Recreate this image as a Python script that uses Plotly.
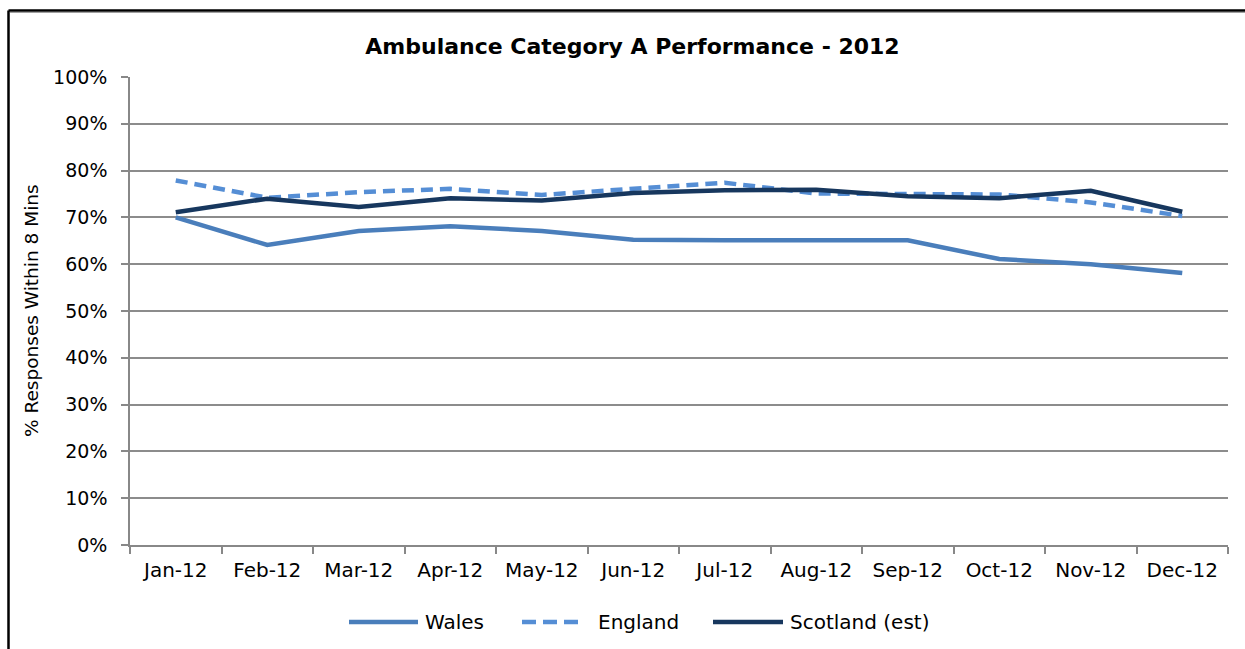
import plotly.graph_objects as go

months = ["Jan-12", "Feb-12", "Mar-12", "Apr-12", "May-12", "Jun-12",
          "Jul-12", "Aug-12", "Sep-12", "Oct-12", "Nov-12", "Dec-12"]
wales = [0.700, 0.641, 0.671, 0.681, 0.671, 0.652, 0.651, 0.651, 0.651, 0.611, 0.600, 0.581]
england = [0.779, 0.742, 0.754, 0.761, 0.748, 0.761, 0.774, 0.751, 0.751, 0.749, 0.732, 0.703]
scotland = [0.711, 0.740, 0.722, 0.741, 0.736, 0.752, 0.758, 0.759, 0.745, 0.741, 0.757, 0.712]

series_names = ["Wales", "England", "Scotland (est)"]
series_colors = ["#4A7EBB", "#558ED5", "#17375E"]
series_dash = ["solid", "12px,7px", "solid"]

FONT = "DejaVu Sans"
W, H = 1245, 649
L, R, T, B = 130, 17, 77, 104
PW, PH = W - L - R, H - T - B


def px(xp):
    return (xp - L) / PW


def py(yp):
    return (H - B - yp) / PH


fig = go.Figure()
for name, vals, col, dash in zip(series_names, [wales, england, scotland], series_colors, series_dash):
    fig.add_trace(go.Scatter(x=months, y=vals, mode="lines", name=name,
                             line=dict(color=col, width=4.5, dash=dash),
                             showlegend=False))

shapes = []
# outer chart border (left and top edges visible)
shapes.append(dict(type="line", xref="paper", yref="paper", x0=px(8.5), x1=px(8.5), y0=py(700), y1=py(10.5),
                   line=dict(color="black", width=2.5)))
shapes.append(dict(type="line", xref="paper", yref="paper", x0=px(8.5), x1=px(1300), y0=py(10.5), y1=py(10.5),
                   line=dict(color="black", width=2.5)))
shapes.append(dict(type="line", xref="paper", yref="paper", x0=px(10), x1=px(1300), y0=py(12.5), y1=py(12.5),
                   line=dict(color="#A0A0A0", width=1)))

# custom legend
legend_lines = [(349, 418), (522, 581), (713, 783)]
legend_text_x = [423, 596, 788]
annotations = []
ly = 622
for (x0, x1), tx, name, col, dash in zip(legend_lines, legend_text_x, series_names, series_colors, series_dash):
    shapes.append(dict(type="line", xref="paper", yref="paper", x0=px(x0), x1=px(x1), y0=py(ly), y1=py(ly),
                       line=dict(color=col, width=4.5, dash="14px,7px" if dash != "solid" else "solid")))
    annotations.append(dict(xref="paper", yref="paper", x=px(tx), y=py(ly), text=name, showarrow=False,
                            xanchor="left", yanchor="middle", font=dict(family=FONT, size=20, color="black")))

annotations.append(dict(xref="paper", yref="paper", x=px(31), y=py(311), text="% Responses Within 8 Mins",
                        textangle=-90, showarrow=False, xanchor="center", yanchor="middle",
                        font=dict(family=FONT, size=18.5, color="black")))

fig.update_layout(
    width=W, height=H,
    margin=dict(l=L, r=R, t=T, b=B, autoexpand=False),
    paper_bgcolor="white", plot_bgcolor="white",
    title=dict(text="<b>Ambulance Category A Performance - 2012</b>", xref="container", yref="container",
               x=632.5 / W, y=1 - 46 / H, xanchor="center", yanchor="middle",
               font=dict(family=FONT, size=22, color="black")),
    shapes=shapes, annotations=annotations,
    showlegend=False,
)
fig.update_xaxes(type="category", range=[-0.5, 11.5], showgrid=False, showline=True, linecolor="#888888",
                 linewidth=1.5, ticks="outside", ticklen=7, tickcolor="#888888", tickwidth=1.5,
                 tickson="boundaries", tickfont=dict(family=FONT, size=20, color="black"),
                 ticklabelstandoff=6, fixedrange=True)
fig.update_yaxes(range=[0, 1], dtick=0.1, tickformat=".0%", showgrid=True, gridcolor="#8C8C8C", gridwidth=1.5,
                 showline=True, linecolor="#888888", linewidth=1.5, ticks="outside", ticklen=7,
                 tickcolor="#888888", tickwidth=1.5, zeroline=False,
                 tickfont=dict(family=FONT, size=19, color="black"), ticklabelstandoff=10, fixedrange=True)

fig.write_html("out.html")
